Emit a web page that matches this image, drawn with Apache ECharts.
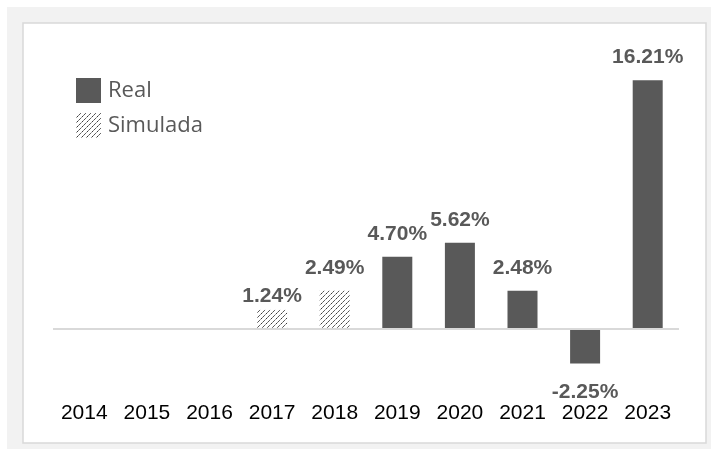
<!DOCTYPE html>
<html>
<head>
<meta charset="utf-8">
<script src="https://cdn.jsdelivr.net/npm/echarts@6/dist/echarts.min.js"></script>
<style>
  html, body { margin: 0; padding: 0; background: #fff; }
  #chart { width: 711px; height: 459px; }
</style>
</head>
<body>
<div id="chart"></div>
<script>
var years = ['2014', '2015', '2016', '2017', '2018', '2019', '2020', '2021', '2022', '2023'];
var realValues = [null, null, null, null, null, 4.70, 5.62, 2.48, -2.25, 16.21];
var simValues = [null, null, null, 1.24, 2.49, null, null, null, null, null];

// hatch pattern for the simulated bars
function hatch() {
  var c = document.createElement('canvas');
  c.width = 5;
  c.height = 5;
  var ctx = c.getContext('2d');
  ctx.fillStyle = '#fff';
  ctx.fillRect(0, 0, 5, 5);
  ctx.strokeStyle = '#1a1a1a';
  ctx.lineWidth = 1;
  ctx.setLineDash([2, 1]);
  ctx.beginPath();
  ctx.moveTo(-1, 6); ctx.lineTo(6, -1);
  ctx.moveTo(-1, 1); ctx.lineTo(1, -1);
  ctx.moveTo(4, 6); ctx.lineTo(6, 4);
  ctx.stroke();
  return { image: c, repeat: 'repeat' };
}

var labelFmt = function (p) { return p.value.toFixed(2) + '%'; };
var labelStyle = {
  show: true,
  position: 'top',
  distance: 12,
  fontFamily: 'Liberation Sans, Arial, sans-serif',
  fontWeight: 'bold',
  fontSize: 21,
  color: '#595959',
  formatter: labelFmt
};

var realData = realValues.map(function (v) {
  if (v !== null && v < 0) {
    return { value: v, label: { position: 'bottom', distance: 18 } };
  }
  return v;
});

// the first simulated label sits closer to its bar in the original
var simData = simValues.map(function (v, i) {
  if (v !== null && i === simValues.findIndex(function (x) { return x !== null; })) {
    return { value: v, label: { distance: 3 } };
  }
  return v;
});

var chart = echarts.init(document.getElementById('chart'), null, { renderer: 'canvas' });
chart.setOption({
  animation: false,
  graphic: [
    { type: 'rect', z: -10, shape: { x: 7, y: 7, width: 704, height: 442 }, style: { fill: '#f2f2f2' } },
    { type: 'rect', z: -9, shape: { x: 23, y: 23, width: 683, height: 420 }, style: { fill: '#fff', stroke: '#d9d9d9', lineWidth: 1.5 } }
  ],
  legend: {
    orient: 'vertical',
    left: 71,
    top: 73,
    icon: 'rect',
    itemWidth: 25,
    itemHeight: 25,
    itemGap: 10,
    textStyle: { fontFamily: 'Open Sans, sans-serif', fontSize: 22, color: '#595959', padding: [0, 0, 0, 2] },
    data: ['Real', 'Simulada']
  },
  grid: { left: 53, right: 32, top: 68, height: 330 },
  xAxis: {
    type: 'category',
    data: years,
    position: 'bottom',
    axisLine: { show: false },
    axisTick: { show: false },
    axisLabel: {
      margin: 5,
      fontFamily: 'Liberation Sans, Arial, sans-serif',
      fontSize: 21,
      color: '#000'
    }
  },
  yAxis: {
    type: 'value',
    min: -4.5,
    max: 17,
    show: false,
    splitLine: { show: false }
  },
  series: [
    {
      name: 'Real',
      type: 'bar',
      stack: 'all',
      barWidth: 30,
      itemStyle: { color: '#595959' },
      label: labelStyle,
      data: realData,
      markLine: {
        silent: true,
        symbol: 'none',
        label: { show: false },
        lineStyle: { color: '#d9d9d9', width: 2, type: 'solid' },
        data: [{ yAxis: 0 }]
      }
    },
    {
      name: 'Simulada',
      type: 'bar',
      stack: 'all',
      barWidth: 30,
      itemStyle: { color: hatch() },
      label: labelStyle,
      data: simData
    }
  ]
});
</script>
</body>
</html>
